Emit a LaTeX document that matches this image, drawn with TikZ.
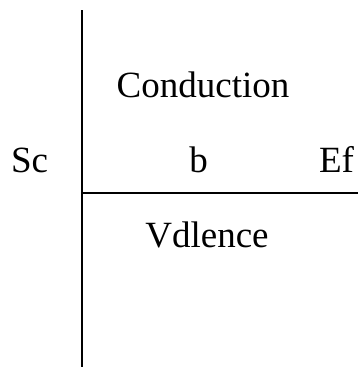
\documentclass[tikz,border=0pt]{standalone}
\usepackage{fontspec}
\setmainfont{Liberation Serif}
\usepackage{tikz}
\usetikzlibrary{positioning}

\begin{document}
\begin{tikzpicture}[
    x=1pt, y=-1pt,
    bandlabel/.style={anchor=base, inner sep=0pt, font=\fontsize{37}{41}\selectfont},
    bandline/.style={line width=1.3pt, black}
]
\useasboundingbox (0,0) rectangle (358,367);

% Axis and band edge
\coordinate (top) at (82,10);
\coordinate (bottom) at (82,367);
\coordinate (edge) at (82,193);
\coordinate (edgeend) at (358,193);
\draw[bandline] (top) -- (bottom);
\draw[bandline] (edge) -- (edgeend);

% Labels
\node[bandlabel] (cond) at (203,97) {Conduction};
\node[bandlabel] (sc) at (29.5,172) {Sc};
\node[bandlabel] (b) at (198.5,172) {b};
\node[bandlabel] (ef) at (336.5,172) {Ef};
\node[bandlabel] (val) at (207,247) {Vdlence};
\end{tikzpicture}
\end{document}
